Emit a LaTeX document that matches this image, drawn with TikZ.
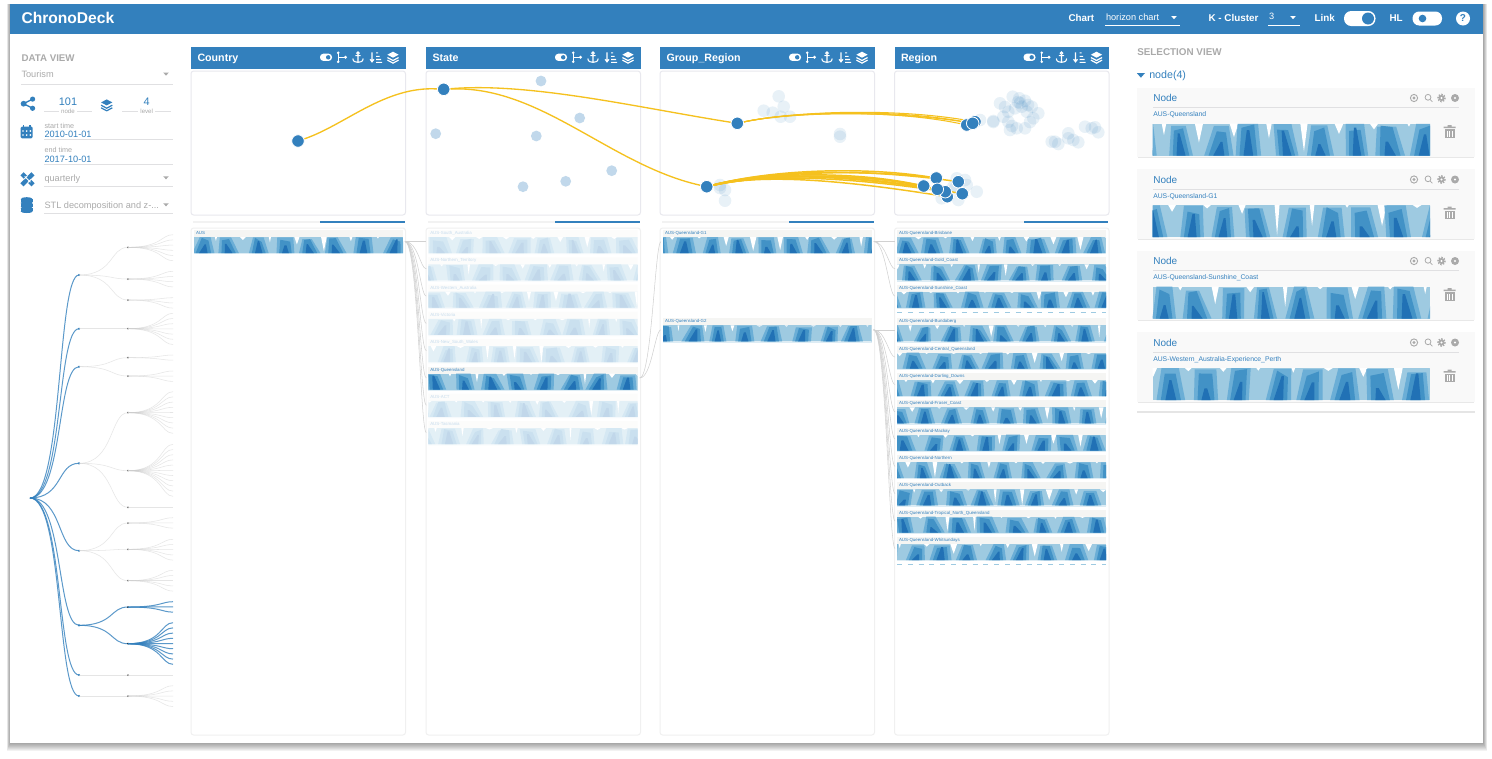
\documentclass[tikz,border=0pt]{standalone}
\usepackage{fontspec}
\setmainfont{Liberation Sans}
\pgfdeclarelayer{front}
\pgfsetlayers{main,front}

\definecolor{hblue}{RGB}{51,128,189}
\definecolor{hz1}{RGB}{158,202,225}
\definecolor{hz2}{RGB}{107,174,214}
\definecolor{hz3}{RGB}{66,146,198}
\definecolor{hz4}{RGB}{33,113,181}
\definecolor{linkyellow}{RGB}{245,193,30}
\definecolor{softgray}{RGB}{170,170,170}
\definecolor{rulegray}{RGB}{224,224,226}
\definecolor{boxgray}{RGB}{232,232,238}
\definecolor{stripgray}{RGB}{245,245,243}

\newcommand{\fs}[1]{\fontsize{#1}{#1}\selectfont}

\tikzset{
  every picture/.style={line width=0.75pt},
  txt/.style={anchor=west,inner sep=0pt,text depth=0pt,execute at begin node={\vphantom{H}}},
  headtxt/.style={txt,text=white,font=\fs{7.4}\bfseries},
  paneltitle/.style={txt,text=white,font=\fs{8}\bfseries},
  graytxt/.style={txt,text=softgray,font=\fs{6.9}},
  smalltxt/.style={txt,text=softgray,font=\fs{5.4}},
  bluetxt/.style={txt,text=hblue,font=\fs{6.9}},
  rowlabel/.style={txt,text=hblue,font=\fs{3.3}},
  cardlabel/.style={txt,text=hblue,font=\fs{5.1}},
  panelbox/.style={draw=boxgray,fill=white,rounded corners=2pt},
  listbox/.style={draw=black!6,fill=white,rounded corners=2pt},
  leftrule/.style={draw=rulegray,line width=0.9pt},
  bluedot/.style={circle,fill=hblue,draw=white,line width=0.6pt,inner sep=0pt,minimum size=9.4pt},
  fadedot/.style={fill=hblue,opacity=0.11},
  statedot/.style={fill=hblue,opacity=0.3},
  linkline/.style={draw=linkyellow,line width=1pt},
  listlink/.style={draw=black!18,line width=0.4pt},
  treeblue/.style={draw=hblue,opacity=0.8,line width=0.75pt},
  treegray/.style={draw=black!20,opacity=0.5,line width=0.4pt},
}

% horizon chart: x, y, width, height, period, seed
\newcommand{\hzchart}[6]{%
  \begin{scope}
    \clip (#1,#2) rectangle ++(#3,#4);
    \pgfmathsetseed{\number\numexpr#6*7919+13\relax}
    \fill[hz1] (#1,#2) rectangle ++(#3,#4);
    \pgfmathsetmacro{\hzphase}{rnd*#5}
    \pgfmathtruncatemacro{\hzn}{#3/#5+1}
    \pgfmathsetmacro{\hp}{#5/2}
    \pgfmathsetmacro{\hzbot}{#2+#4}
    \foreach \p in {0,...,\hzn}{
      \pgfmathsetmacro{\ra}{rnd}\pgfmathsetmacro{\rb}{rnd}\pgfmathsetmacro{\rc}{rnd}
      \pgfmathsetmacro{\rdd}{rnd}\pgfmathsetmacro{\re}{rnd}\pgfmathsetmacro{\rf}{rnd}
      \pgfmathsetmacro{\rg}{rnd}\pgfmathsetmacro{\rh}{rnd}
      \pgfmathsetmacro{\cx}{#1+\hzphase+(\p-0.5)*#5+(\rg-0.5)*0.35*\hp}
      \pgfmathsetmacro{\nx}{#1+\hzphase+\p*#5}
      \pgfmathsetmacro{\nw}{(0.06+0.2*\ra)*\hp}
      \pgfmathsetmacro{\nd}{#2+#4*(0.08+0.92*\rb*\rb*\rb)}
      \pgfmathsetmacro{\bb}{(0.62+0.25*\rc)*\hp}
      \pgfmathsetmacro{\tb}{(0.34+0.28*\rdd)*\hp}
      \pgfmathsetmacro{\sk}{(\re-0.5)*0.55*\hp}
      \pgfmathsetmacro{\yb}{#2+#4*0.14*\rh*\rh}
      \pgfmathsetmacro{\yc}{#2+#4*(0.03+0.22*\ra)}
      \pgfmathsetmacro{\ycc}{#2+#4*(0.03+0.28*\rg)}
      \pgfmathsetmacro{\yd}{#2+#4*(0.12+0.55*\rf)}
      \fill[white] ({\nx-\nw},#2) -- (\nx,\nd) -- ({\nx+\nw},#2) -- cycle;
      \fill[hz2] ({\cx-\bb},\hzbot) -- ({\cx-\tb+\sk},\yb) -- ({\cx+\tb+\sk},\yb) -- ({\cx+\bb},\hzbot) -- cycle;
      \fill[hz3] ({\cx-0.7*\bb},\hzbot) -- ({\cx-0.62*\tb+\sk},\yc) -- ({\cx+0.62*\tb+\sk},\ycc) -- ({\cx+0.7*\bb},\hzbot) -- cycle;
      \fill[hz4] ({\cx-0.38*\bb},\hzbot) -- ({\cx-0.1*\tb+\sk},\yd) -- ({\cx+0.15*\tb+\sk},\yd) -- ({\cx+0.38*\bb},\hzbot) -- cycle;
    }
  \end{scope}}

% list row: name, x, top, width, label, seed
\newcommand{\listrow}[6]{%
  \fill[stripgray] (#2,#3) rectangle ++(#4,23);
  \fill[hz1,opacity=0.35] (#2,{#3+23}) rectangle ++(#4,1.2);
  \draw ({#2+1.5},{#3+3}) node (#1) [rowlabel] {#5};
  \hzchart{#2}{#3+7}{#4}{16}{27}{#6}
  \coordinate (#1-l) at ({#2-2},{#3+11.5});
  \coordinate (#1-r) at ({#2+#4+2},{#3+11.5});}

% icons
\newcommand{\icotoggle}{\fill[white,rounded corners=2.5pt] (-6,-3.6) rectangle (6,3.6);\fill[hblue] (2.2,0) circle (2.2);}
\newcommand{\icobranch}{\draw[line width=0.8pt] (-3.8,-4.5) -- (-3.8,4.5) (-3.8,0) -- (3,0);\fill (-3.8,-4.5) circle (1.4) (-3.8,4.5) circle (1.4) (3.5,0) circle (1.6);}
\newcommand{\icoanchor}{\draw[line width=0.8pt] (0,-3) -- (0,5) (-2.6,-1.6) -- (2.6,-1.6) (0,-4.2) circle (1.3) (-5.2,1.2) .. controls (-5,4.6) and (-2,5) .. (0,5) .. controls (2,5) and (5,4.6) .. (5.2,1.2);}
\newcommand{\icosort}{\draw[line width=0.8pt] (-4,-5) -- (-4,4) (-6,2) -- (-4,4.6) -- (-2,2) (0,-4.5) -- (2,-4.5) (0,-1) -- (3.6,-1) (0,2.2) -- (5,2.2) (0,5) -- (6,5);}
\newcommand{\icolayers}{\fill (-5.6,-2.6) -- (0,-5.6) -- (5.6,-2.6) -- (0,0.4) -- cycle;\draw[line width=0.9pt] (-5.6,0.2) -- (0,3.2) -- (5.6,0.2) (-5.6,2.8) -- (0,5.8) -- (5.6,2.8);}
\newcommand{\icoset}[1]{% panel header icons
  \begin{scope}[shift={(#1,57.3)},white,fill=white,draw=white]
    \begin{scope}[shift={(135,0)}]\icotoggle\end{scope}
    \begin{scope}[shift={(151,0)}]\icobranch\end{scope}
    \begin{scope}[shift={(167,0)}]\icoanchor\end{scope}
    \begin{scope}[shift={(185,0)}]\icosort\end{scope}
    \begin{scope}[shift={(202,0)}]\icolayers\end{scope}
  \end{scope}}
\newcommand{\droptri}[3]{\fill[#3] ({#1-2.8},{#2-1.4}) -- ++(5.6,0) -- ++(-2.8,3) -- cycle;}

\begin{document}
\begin{tikzpicture}[x=0.75pt,y=0.75pt,yscale=-1,xscale=1]
\useasboundingbox (0,0) rectangle (1492,758);

%Shape: Window shadow
\foreach \d in {8,...,1} {
  \fill[black,opacity=0.05] ({10-0.4*\d},4) rectangle ({1483+0.5*\d},{743+\d});
}
%Shape: Window
\fill[white] (10,4) rectangle (1483,743);
\fill[hblue] (10,4) rectangle (1483,33.5);

% Text Node
\draw (21,18) node (title) [txt,text=white,font=\fs{11.7}\bfseries] {ChronoDeck};
\draw (1068,18) node (chartlbl) [headtxt] {Chart};
\draw (1105.5,17) node (chartval) [txt,text=white,font=\fs{6.9}] {horizon chart};
\droptri{1174}{17.5}{white}
\draw[white,line width=0.5pt] (1105,25.5) -- (1180,25.5);
\draw (1208,18) node (clusterlbl) [headtxt] {K - Cluster};
\draw (1268.5,16.5) node (clusterval) [txt,text=white,font=\fs{6.9}] {3};
\droptri{1293}{17.5}{white}
\draw[white,line width=0.5pt] (1268,25.5) -- (1300,25.5);
\draw (1314,18) node (linklbl) [headtxt] {Link};
\fill[white,rounded corners=5.4pt] (1344,11) rectangle (1375.5,26);
\fill[hblue] (1368,18.5) circle (6);
\draw (1389,18) node (hllbl) [headtxt] {HL};
\fill[white,rounded corners=5pt] (1412.5,11.5) rectangle (1442,25.5);
\fill[hblue] (1422.5,18.5) circle (3.8);
\fill[white] (1463,18.5) circle (7);
\draw (1463,18.5) node (helpq) [inner sep=0pt,text=hblue,font=\fs{7.5}\bfseries] {?};

%Shape: Data view
\draw (21,57.7) node (dataview) [txt,text=softgray,font=\fs{7.3}\bfseries] {DATA VIEW};
\draw (21,74) node (tourism) [graytxt] {Tourism};
\droptri{166}{74}{softgray}
\draw[leftrule] (21,84.7) -- (172.5,84.7);
\begin{scope}[shift={(28,103.7)},hblue,fill=hblue,draw=hblue]
  \draw[line width=1pt] (4.6,-4.6) -- (-4.4,0) -- (4.6,4.6);
  \fill (-4.4,0) circle (2.9) (4.6,-4.6) circle (2.6) (4.6,4.6) circle (2.6);
\end{scope}
\draw (68,101.3) node (nodecount) [inner sep=0pt,text=hblue,font=\fs{8.2}] {101};
\draw[draw=rulegray] (44,111.5) -- (59,111.5) (77,111.5) -- (92,111.5);
\draw (68,111.5) node (nodeword) [inner sep=0pt,text=softgray,font=\fs{4.6}] {node};
\begin{scope}[shift={(106.7,105)},hblue,fill=hblue,draw=hblue]\icolayers\end{scope}
\draw (146.7,101.3) node (levelcount) [inner sep=0pt,text=hblue,font=\fs{8.2}] {4};
\draw[draw=rulegray] (122,111.5) -- (138,111.5) (155,111.5) -- (171,111.5);
\draw (146.7,111.5) node (levelword) [inner sep=0pt,text=softgray,font=\fs{4.6}] {level};
%Shape: Calendar
\fill[hblue,rounded corners=1pt] (20.7,126.5) rectangle (32.7,138.3);
\draw[hblue,line width=1pt] (23.5,125.2) -- (23.5,127.5) (29.9,125.2) -- (29.9,127.5);
\foreach \cy in {131,135} \foreach \cxx in {23,26.7,30.4} {\fill[white] (\cxx,\cy) circle (0.95);}
\draw (44,125.5) node (starttime) [smalltxt] {start time};
\draw (44,134) node (startval) [bluetxt] {2010-01-01};
\draw[leftrule] (44,139.5) -- (172.5,139.5);
\draw (44,150.3) node (endtime) [smalltxt] {end time};
\draw (44,159) node (endval) [bluetxt] {2017-10-01};
\draw[leftrule] (44,164.8) -- (172.5,164.8);
%Shape: Tools
\begin{scope}[shift={(27.5,179.3)}]
  \fill[hblue,rotate=45] (-7.8,-2.2) rectangle (7.8,2.2);
  \fill[hblue,rotate=-45] (-7.8,-2.2) rectangle (7.8,2.2);
  \draw[white,line width=0.7pt,rotate=45] (-2.5,-2.2) -- (-2.5,2.2) (2.5,-2.2) -- (2.5,2.2);
  \draw[white,line width=0.7pt] (-2.9,-2.9) -- (2.9,2.9);
\end{scope}
\draw (44,177.7) node (quarterly) [graytxt] {quarterly};
\droptri{166}{177.7}{softgray}
\draw[leftrule] (44,186.7) -- (172.5,186.7);
%Shape: Database
\begin{scope}[shift={(26.7,206)}]
  \foreach \dby in {-4.8,-0.2,4.4} {\fill[hblue] (-6,{\dby-2}) rectangle (6,{\dby+1});\fill[hblue] (0,{\dby-2}) ellipse (6 and 2);\fill[hblue] (0,{\dby+1}) ellipse (6 and 1.6);}
\end{scope}
\draw (44,204.7) node (stlitem) [graytxt] {STL decomposition and z-...};
\droptri{166}{204.7}{softgray}
\draw[leftrule] (44,213.7) -- (172.5,213.7);

%Shape: Tree
\coordinate (root) at (30,498);
\foreach \g/\gy/\kind/\mids in {
  1/275/treegray/{247.3/234.7/6,279/271.3/4,300/297.7/3},
  2/328.7/treegray/{328.7/313.3/7},
  3/366.7/treegray/{357.7/355/2,376/371/3},
  4/463.3/treegray/{412.7/391.7/9,470.7/444.3/11,507.3/507.3/1},
  5/550.7/treegray/{523/517.7/3,549.3/539.3/5,580.7/570.3/5},
  6/625.3/treeblue/{607/601.7/3,643.7/622.7/9},
  7/675/treegray/{675/675/1},
  8/696/treegray/{696/685.7/5}} {
  \coordinate (gnode) at (79,\gy);
  \draw[treeblue] (root) .. controls +(33,0) and +(-22,0) .. (gnode);
  \fill[hblue] (gnode) circle (1.2);
  \foreach \my/\first/\num in \mids {
    \coordinate (mnode) at (128,\my);
    \draw[\kind] (gnode) .. controls +(35,0) and +(-18,0) .. (mnode);
    \fill[\kind,draw=none] (mnode) circle (1);
    \foreach \k in {1,...,\num} {
      \pgfmathsetmacro{\leafy}{\first+(\k-1)*5.2}
      \coordinate (lnode) at (173,\leafy);
      \draw[\kind] (mnode) .. controls +(34,0) and +(-12,0) .. (lnode);
    }
  }
}

%Shape: Panels
\foreach \cl/\ttl in {191/Country,426/State,660/Group\_Region,894.5/Region} {
  \fill[hblue] (\cl,47) rectangle ({\cl+214.5},68.5);
  \draw ({\cl+6},57.5) node (head\cl) [paneltitle] {\ttl};
  \icoset{\cl}
  \draw[panelbox] (\cl,71) rectangle ({\cl+214.5},215);
  \fill[black!5] ({\cl+2},220.5) rectangle ({\cl+213.5},222.8);
  \fill[hblue] ({\cl+129},220.5) rectangle ({\cl+213.5},222.8);
  \draw[listbox] (\cl,228) rectangle ({\cl+214.5},735);
}

%Shape: Country list
\listrow{co1}{194}{230}{209}{AUS}{21}
%Shape: State list
\foreach \lbl/\sd [count=\i] in {AUS-South\_Australia/31,AUS-Northern\_Territory/32,AUS-Western\_Australia/33,AUS-Victoria/34,AUS-New\_South\_Wales/35,AUS-ACT/37,AUS-Tasmania/38} {
  \pgfmathsetmacro{\rowy}{230+27.3*(\i-1+(\i>5))}
  \begin{scope}[transparency group,opacity=0.28]
    \listrow{st\i}{428.3}{\rowy}{209.4}{\lbl}{\sd}
  \end{scope}
}
\listrow{stq}{428.3}{366.5}{209.4}{AUS-Queensland}{36}
%Shape: Group list
\listrow{gr1}{663}{230}{208.7}{AUS-Queensland-G1}{41}
\listrow{gr2}{663}{318.3}{208.7}{AUS-Queensland-G2}{42}
%Shape: Region list
\foreach \lbl/\rowy/\sd [count=\i] in {AUS-Queensland-Brisbane/230/51,AUS-Queensland-Gold\_Coast/257.3/52,AUS-Queensland-Sunshine\_Coast/284.6/53,AUS-Queensland-Bundaberg/318.3/54,AUS-Queensland-Central\_Queensland/345.6/55,AUS-Queensland-Darling\_Downs/373/56,AUS-Queensland-Fraser\_Coast/400.3/57,AUS-Queensland-Mackay/427.6/58,AUS-Queensland-Northern/455/59,AUS-Queensland-Outback/482.3/60,AUS-Queensland-Tropical\_North\_Queensland/509.6/61,AUS-Queensland-Whitsundays/537/62} {
  \listrow{re\i}{897}{\rowy}{209}{\lbl}{\sd}
}
\draw[hz1,dash pattern=on 3.7pt off 4.4pt] (897,312.3) -- (1106,312.3) (897,564) -- (1106,564);

%Straight Lines: list links
\foreach \i in {1,...,5} {\draw[listlink] (co1-r) .. controls +(13,0) and +(-6,0) .. (st\i-l);}
\draw[listlink] (co1-r) .. controls +(13,0) and +(-6,0) .. (stq-l);
\foreach \i in {6,7} {\draw[listlink] (co1-r) .. controls +(13,0) and +(-6,0) .. (st\i-l);}
\draw[listlink] (stq-r) .. controls +(12,0) and +(-6,0) .. (gr1-l);
\draw[listlink] (stq-r) .. controls +(12,0) and +(-6,0) .. (gr2-l);
\foreach \i in {1,2,3} {\draw[listlink] (gr1-r) .. controls +(12,0) and +(-6,0) .. (re\i-l);}
\foreach \i in {4,...,12} {\draw[listlink] (gr2-r) .. controls +(12,0) and +(-6,0) .. (re\i-l);}

%Shape: Faded dots
\foreach \x/\y in {541/81,579.7/118,536.3/136,435.7/133.7,611.7/170.7,565.7/181.3,523/186.7} {
  \fill[statedot] (\x,\y) circle (5.4);
}
\foreach \x/\y in {778.7/96.3,783.7/106.7,763.7/110.7,772.7/112.7,780.7/116.7,790/116.7,840/134,840/136.7,720/185,720/188,725/190,725/200.7,
  1000/103.3,1012.7/96.7,1019.3/98.3,1025/100.7,1031.7/106.7,1038.3/113.3,1033.3/118.3,1025/128.3,1016.7/128.3,1010/130,1008.3/121.7,1003.3/116.7,1008.3/111.7,1015/108.3,1021.7/106.7,993.3/121,993.3/122,980/120,1026.7/111.7,1018/102,1005/107,1030/122,1012/126,1020/103,1028/105,
  1055/141.7,1058.3/144,1051.7/141.7,1068.3/133.3,1068.3/138.3,1073.3/140,1078.3/142.3,1085/126.7,1091.7/128.3,1095/127.3,1098.3/132.3,
  956.7/178.3,965/180,966.7/185,953.3/186.7,976.7/191.7,958.3/200,941.7/198.3,955/188.3} {
  \fill[fadedot] (\x,\y) circle (6.3);
}

%Shape: Blue dots
\begin{pgfonlayer}{front}
  \node[bluedot] (cod) at (298,141) {};
  \node[bluedot] (std) at (443.7,89.3) {};
  \node[bluedot] (gra) at (737.3,123.3) {};
  \node[bluedot] (grb) at (706.7,186.7) {};
  \foreach \nm/\x/\y in {rta/966.7/125,rtb/975/121.7,rtc/972.7/123.3,rbf/947.3/196.7,rbe/945.3/191.7,rba/936.3/178,rbb/958.3/181.7,rbc/923.7/186,rbd/937.3/189.3,rbg/962.3/193.7} {
    \node[bluedot] (\nm) at (\x,\y) {};
  }
\end{pgfonlayer}

%Straight Lines: yellow links
\draw[linkline] (cod) .. controls (345,125) and (385,86) .. (std);
\draw[linkline] (std) .. controls (530,82) and (640,108) .. (gra);
\draw[linkline] (std) .. controls (540,85) and (610,165) .. (grb);
\foreach \nm/\ly in {rta/109,rtb/107,rtc/108,rtc/110} {
  \draw[linkline,line width=0.8pt] (gra) .. controls (790,112) and (890,\ly) .. (\nm);
}
\foreach \nm/\fy/\ly in {rba/170/166,rbb/170/168,rbc/171/172,rbd/171/176,rbe/172/179,rbf/172/183,rbg/171/176,rba/172/169,rbc/173/174,rbd/173/172,rbe/170/176} {
  \draw[linkline,line width=1.1pt] (grb) .. controls (770,\fy) and (860,\ly) .. (\nm);
}

%Shape: Selection view
\draw (1137,52) node (selview) [txt,text=softgray,font=\fs{7.4}\bfseries] {SELECTION VIEW};
\fill[hblue] (1136.8,73) -- (1145,73) -- (1140.9,77.7) -- cycle;
\draw (1149,74.5) node (nodefour) [txt,text=hblue,font=\fs{8}] {node(4)};
\foreach \top/\lbl/\sd [count=\i] in {87.5/AUS-Queensland/71,169/AUS-Queensland-G1/72,250.5/AUS-Queensland-Sunshine\_Coast/73,332/AUS-Western\_Australia-Experience\_Perth/74} {
  \fill[black!9] (1138,{\top+69}) rectangle (1474,{\top+70.5});
  \fill[black!2.5] (1137,\top) rectangle (1475,{\top+69.5});
  \draw (1153,{\top+10.5}) node (card\i) [txt,text=hblue,font=\fs{7.5}] {Node};
  \draw[draw=rulegray] (1153,{\top+20}) -- (1459,{\top+20});
  \draw (1153,{\top+27}) node (cardl\i) [cardlabel] {\lbl};
  \hzchart{1152.7}{\top+36}{277.3}{32}{35}{\sd}
  \begin{scope}[shift={(1414,{\top+10.5})},draw=softgray,fill=softgray]
    \draw[line width=0.7pt] (0,0) circle (3.6);\fill (0,0) circle (1.6);
    \draw[line width=0.6pt] (14,-0.7) circle (2.9) (16,1.4) -- (18.4,3.8);
    \fill (27.5,0) circle (3);\draw[line width=1.2pt,dash pattern=on 1pt off 1pt] (27.5,0) circle (3.5);\fill[white] (27.5,0) circle (1.2);
    \fill (41,0) circle (4);\fill[white] (41,0) circle (1.2);
  \end{scope}
  \begin{scope}[shift={(1449.7,{\top+44})}]
    \fill[softgray] (-6,-4.8) rectangle (6,-3.4) (-2,-6.3) rectangle (2,-4.8);
    \fill[softgray] (-5,-2.4) rectangle (5,6.4);
    \foreach \tx in {-2.6,0,2.6} {\fill[white] ({\tx-0.5},-1) rectangle ({\tx+0.5},5);}
  \end{scope}
}
\fill[black!10] (1137,411) rectangle (1475,412.8);

\end{tikzpicture}
\end{document}
